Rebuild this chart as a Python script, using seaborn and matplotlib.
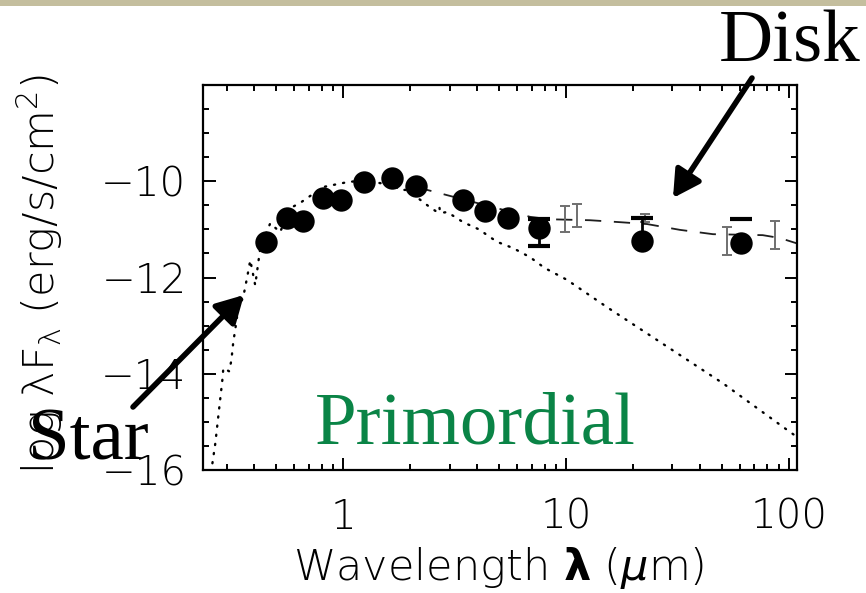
import matplotlib
matplotlib.use("Agg")
import matplotlib.pyplot as plt
import seaborn as sns
from matplotlib.patches import Rectangle, FancyArrowPatch
from matplotlib.ticker import LogLocator, MultipleLocator, NullFormatter

# Stellar photosphere model (wavelength in micron, log lambda*F_lambda)
star_wave = [0.259, 0.267, 0.275, 0.287, 0.290, 0.308, 0.315, 0.321, 0.331,
             0.338, 0.356, 0.371, 0.383, 0.403, 0.425, 0.471, 0.521, 0.578,
             0.641, 0.813, 0.94, 1.04, 1.23, 1.47, 1.62, 1.80, 1.94, 2.28,
             2.45, 2.60, 2.70, 2.72, 2.93, 3.45, 4.11, 4.42, 4.91, 5.79,
             6.90, 8.0, 10.1, 15.3, 50.6, 101.0, 110.0]
star_flux = [-15.86, -15.44, -14.90, -14.13, -13.88, -13.95, -13.72, -13.36,
             -12.95, -12.64, -12.41, -11.99, -11.64, -12.16, -11.37, -10.87,
             -11.06, -10.56, -10.45, -10.12, -10.06, -10.02, -9.98, -10.04,
             -10.02, -10.18, -10.18, -10.43, -10.54, -10.62, -10.52, -10.66,
             -10.64, -10.85, -11.01, -11.12, -11.26, -11.39, -11.58, -11.80,
             -12.05, -12.62, -14.20, -15.21, -15.33]

# Star + disk model
disk_wave = [2.12, 2.38, 2.93, 6.9, 8.45, 12.8, 17.4, 23.1, 32.4, 45.6, 76.2,
             91.0, 110.0]
disk_flux = [-10.10, -10.18, -10.29, -10.74, -10.79, -10.81, -10.85, -10.89,
             -11.01, -11.10, -11.12, -11.18, -11.30]

# Model points with uncertainties
model_wave = [9.9, 11.2, 22.6, 52.7, 86.5]
model_flux = [-10.79, -10.71, -10.77, -11.24, -11.12]
model_err = [0.27, 0.24, 0.085, 0.29, 0.29]

# Photometry
phot_wave = [0.45, 0.56, 0.66, 0.81, 0.98, 1.24, 1.66, 2.12, 3.45, 4.33,
             5.50, 7.57, 21.9, 61.0]
phot_flux = [-11.26, -10.77, -10.83, -10.35, -10.39, -10.02, -9.93, -10.10,
             -10.39, -10.62, -10.77, -10.97, -11.24, -11.28]

# Photometric error bars and limits
bar_wave = [7.57, 21.9]
bar_low = [-11.35, -11.24]
bar_high = [-10.79, -10.77]
cap_wave = [7.57, 7.57, 21.9, 61.0]
cap_flux = [-11.35, -10.79, -10.77, -10.79]

sns.set_style("ticks")
plt.rcParams["font.family"] = ["DejaVu Sans"]
plt.rcParams["mathtext.default"] = "regular"
plt.rcParams["text.color"] = "black"

W, H = 866, 593
fig = plt.figure(figsize=(W / 100, H / 100), dpi=100)
fig.patch.set_facecolor("white")
fig.add_artist(Rectangle((0, 1 - 6 / H), 1, 6 / H, transform=fig.transFigure,
                         color="#C4BE9E", lw=0))

ax = fig.add_axes([203 / W, 1 - 470 / H, 594 / W, 385 / H])
ax.set_xscale("log")

sns.lineplot(x=star_wave, y=star_flux, sort=False, estimator=None, ax=ax,
             color="black", lw=1.7, linestyle=(0, (0.5, 3.4)),
             dash_capstyle="round")
sns.lineplot(x=disk_wave, y=disk_flux, sort=False, estimator=None, ax=ax,
             color="#1e1e1e", lw=1.3, linestyle=(0, (9, 7)))
ax.errorbar(model_wave, model_flux, yerr=model_err, fmt="none",
            ecolor="#6f6f6f", elinewidth=1.4, capsize=3.5, capthick=1.4,
            zorder=3)
ax.vlines(bar_wave, bar_low, bar_high, color="black", lw=2, zorder=4)
sns.scatterplot(x=phot_wave, y=phot_flux, s=260, color="black", linewidth=0,
                ax=ax, zorder=5)
ax.plot(cap_wave, cap_flux, ls="none", marker="_", ms=16, mew=3,
        color="black", zorder=6)

ax.set_xlim(0.235, 108.6)
ax.set_ylim(-16, -8)
ax.set_xticks([1, 10, 100])
ax.set_xticklabels(["1", "10", "100"])
ax.xaxis.set_minor_locator(LogLocator(base=10, subs=range(2, 10), numticks=50))
ax.xaxis.set_minor_formatter(NullFormatter())
ax.set_yticks([-16, -14, -12, -10])
ax.yaxis.set_minor_locator(MultipleLocator(0.5))
ax.tick_params(which="both", direction="in", top=True, right=True,
               width=1.4, color="black", labelcolor="black")
ax.tick_params(which="major", length=9, labelsize=29)
ax.tick_params(which="minor", length=4.5)
ax.tick_params(axis="x", which="major", pad=20)
ax.tick_params(axis="y", which="major", pad=12)
for lab in ax.get_xticklabels() + ax.get_yticklabels():
    lab.set_fontweight("light")
for s in ax.spines.values():
    s.set_linewidth(1.6)
    s.set_color("black")
ax.set_xlabel("")
ax.set_ylabel("")

fig.text(499 / W, 1 - 568 / H, r"Wavelength $\mathbf{\lambda}$ ($\mathit{\mu}$m)",
         ha="center", va="center", fontsize=31, fontweight="light",
         color="black")
fig.text(40 / W, 1 - 274 / H, r"log λF$_\lambda$ (erg/s/cm$^2$)",
         rotation=90, ha="center", va="center", fontsize=31,
         fontweight="light", color="black")

serif = ["Liberation Serif", "DejaVu Serif"]
fig.text(861 / W, 1 - 62 / H, "Disk", ha="right", va="baseline",
         fontsize=54, family=serif, color="black")
fig.text(28 / W, 1 - 460 / H, "Star", ha="left", va="baseline",
         fontsize=54, family=serif, color="black", zorder=10)
fig.text(315 / W, 1 - 443 / H, "Primordial", ha="left", va="baseline",
         fontsize=54, family=serif, color="#0a8446")


def arrow(tail, tip):
    fig.add_artist(FancyArrowPatch(
        (tail[0] / W, 1 - tail[1] / H), (tip[0] / W, 1 - tip[1] / H),
        transform=fig.transFigure,
        arrowstyle="-|>,head_length=0.45,head_width=0.25",
        mutation_scale=36, lw=4, color="black", shrinkA=0, shrinkB=0,
        zorder=11))


arrow((752, 78), (673, 198))
arrow((133, 407), (244, 295))

fig.savefig("out.png", dpi=100, facecolor="white")
